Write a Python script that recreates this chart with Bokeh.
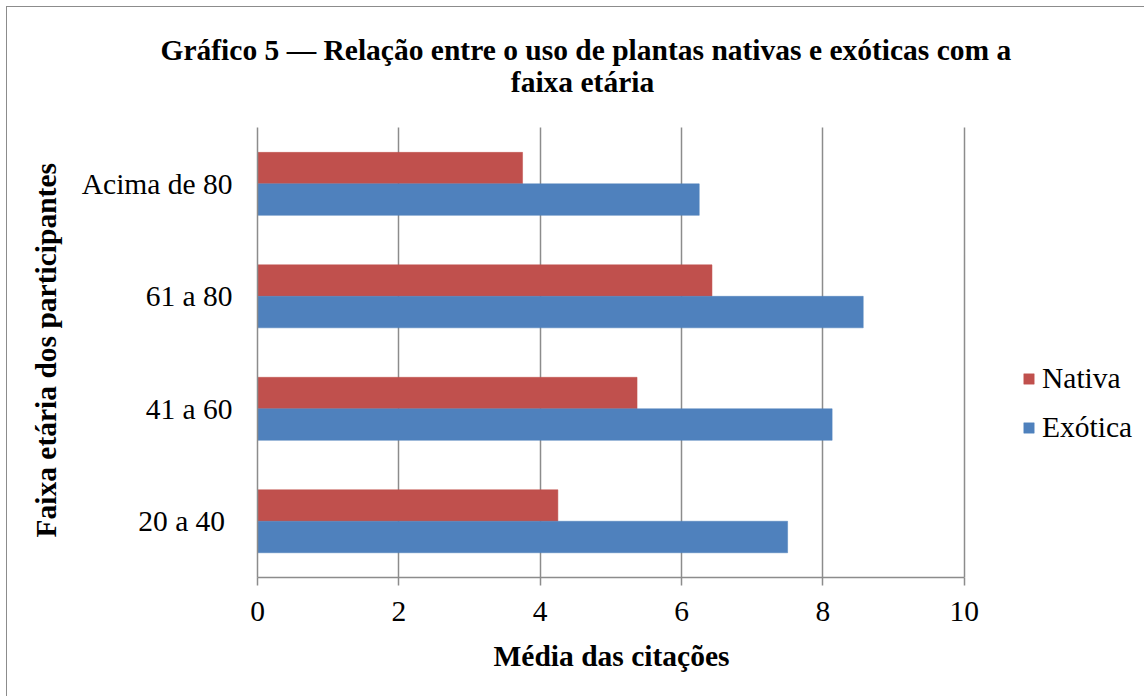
from bokeh.plotting import figure
from bokeh.models import Range1d, Legend, LegendItem, Label, Title, ColumnDataSource, FixedTicker
from bokeh.embed import file_html
from bokeh.resources import INLINE

categories = ["20 a 40 ", "41 a 60", "61 a 80", "Acima de 80"]
nativa = [4.25, 5.37, 6.43, 3.75]
exotica = [7.5, 8.13, 8.57, 6.25]
x_ticks = [0, 2, 4, 6, 8, 10]
series_names = ["Nativa", "Exótica"]
title_lines = ["Gráfico 5 — Relação entre o uso de plantas nativas e exóticas com a", "faixa etária"]
x_title = "Média das citações"
y_title = "Faixa etária dos participantes"

RED = "#C0504D"
BLUE = "#4F81BD"
GRID = "#8C8C8C"
FONT = "Liberation Serif"
FS = "29.5px"

n = len(categories)
centers = [i + 0.5 for i in range(n)]
bar_h = 0.28
src = ColumnDataSource(dict(
    y_nat=[c + bar_h / 2 for c in centers],
    y_exo=[c - bar_h / 2 for c in centers],
    nativa=nativa, exotica=exotica))

# frame: x 0..10 spans 706 px, y 0..4 spans 449 px; frame extended to the right edge and up
px_per_x = 70.6
px_per_y = 112.25
W, H = 1137, 689
ML, MT, MB = 250, 58, 120
x_end = (W - ML) / px_per_x
y_end = (H - MB - MT) / px_per_y

p = figure(width=W, height=H, output_backend="svg", toolbar_location=None,
           x_range=Range1d(0, x_end), y_range=Range1d(0, y_end),
           min_border_left=ML, min_border_top=MT, min_border_right=0, min_border_bottom=MB)
p.styles = {"box-sizing": "content-box", "margin-left": "6px", "margin-top": "6px",
            "border-left": "1.5px solid #8c8c8c", "border-top": "1.5px solid #8c8c8c"}
p.outline_line_color = None
p.background_fill_color = "white"
p.border_fill_color = "white"

r_nat = p.hbar(y="y_nat", right="nativa", left=0, height=bar_h,
               source=src, fill_color=RED, line_color=RED, line_width=0.5)
r_exo = p.hbar(y="y_exo", right="exotica", left=0, height=bar_h,
               source=src, fill_color=BLUE, line_color=BLUE, line_width=0.5)

# grid
p.xgrid.ticker = FixedTicker(ticks=x_ticks)
p.xgrid.grid_line_color = GRID
p.xgrid.grid_line_width = 1.5
p.xgrid.cross_bounds = (0, n)
p.ygrid.grid_line_color = None

# x axis
xa = p.xaxis[0]
xa.ticker = FixedTicker(ticks=x_ticks)
xa.bounds = (0, 10)
xa.axis_line_color = GRID
xa.axis_line_width = 1.5
xa.major_tick_line_color = GRID
xa.major_tick_line_width = 1.5
xa.major_tick_out = 8
xa.major_tick_in = 0
xa.minor_tick_line_color = None
xa.major_label_text_font = FONT
xa.major_label_text_font_size = FS
xa.major_label_text_color = "black"
xa.major_label_standoff = 16

# y axis
ya = p.yaxis[0]
ya.ticker = FixedTicker(ticks=centers)
ya.major_label_overrides = {c: lab for c, lab in zip(centers, categories)}
ya.bounds = (0, n)
ya.axis_line_color = GRID
ya.axis_line_width = 1.5
ya.major_tick_line_color = None
ya.major_tick_out = 0
ya.major_tick_in = 0
ya.minor_tick_line_color = None
ya.major_label_text_font = FONT
ya.major_label_text_font_size = FS
ya.major_label_text_color = "black"
ya.major_label_standoff = 25

# axis titles as side-panel titles (so they can be centred on the 0..10 / 0..4 region)
tx = Title(text=x_title, align="left", offset=236, vertical_align="top", standoff=32,
           text_font=FONT, text_font_style="bold", text_font_size=FS, text_color="black")
p.add_layout(tx, "below")
ty = Title(text=y_title, align="left", offset=40, vertical_align="bottom", standoff=34,
           text_font=FONT, text_font_style="bold", text_font_size=FS, text_color="black")
p.add_layout(ty, "left")

# chart title: first line in the top panel, second line inside the frame
t1 = Title(text=title_lines[0], align="left", offset=-97, standoff=0,
           text_font=FONT, text_font_style="bold", text_font_size=FS, text_color="black")
p.add_layout(t1, "above")
p.add_layout(Label(x=325, y=496, x_units="screen", y_units="screen", text=title_lines[1],
                   text_font=FONT, text_font_style="bold", text_font_size=FS,
                   text_align="center", text_baseline="middle", text_color="black"))

legend = Legend(items=[LegendItem(label=series_names[0], renderers=[r_nat]),
                       LegendItem(label=series_names[1], renderers=[r_exo])],
                location=(765, 133), orientation="vertical")
legend.border_line_color = None
legend.background_fill_alpha = 0
legend.padding = 0
legend.margin = 0
legend.spacing = 16
legend.glyph_width = 13
legend.glyph_height = 13
legend.label_standoff = 7
legend.label_text_font = FONT
legend.label_text_font_size = FS
legend.label_text_color = "black"
p.add_layout(legend, "center")

open("out.html", "w").write(file_html(p, INLINE))
